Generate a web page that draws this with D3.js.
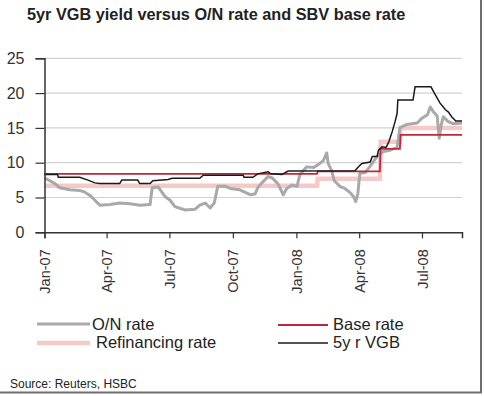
<!DOCTYPE html>
<html>
<head>
<meta charset="utf-8">
<script src="https://cdn.jsdelivr.net/npm/d3@7"></script>
<style>
  html, body { margin: 0; padding: 0; background: #fff; }
  svg { display: block; font-family: "Liberation Sans", Arial, sans-serif; }
</style>
</head>
<body>
<svg id="chart" width="484" height="396"></svg>
<script>
// ---------- data ----------
const titleText = "5yr VGB yield versus O/N rate and SBV base rate";
const sourceText = "Source: Reuters, HSBC";
const yTicks = [0, 5, 10, 15, 20, 25];
const xTickDates = ["2007-01-01", "2007-04-01", "2007-07-01", "2007-10-01", "2008-01-01", "2008-04-01", "2008-07-01"];
const xTickLabels = ["Jan-07", "Apr-07", "Jul-07", "Oct-07", "Jan-08", "Apr-08", "Jul-08"];
const xDomain = ["2007-01-01", "2008-08-28"];

const onRate = [
  ["2007-01-01", 7.8], ["2007-01-09", 7.4], ["2007-01-16", 7.0], ["2007-01-23", 6.4],
  ["2007-02-07", 6.1], ["2007-02-21", 6.0], ["2007-02-28", 5.8], ["2007-03-08", 5.3],
  ["2007-03-15", 4.6], ["2007-03-22", 3.9], ["2007-04-06", 4.0], ["2007-04-20", 4.2],
  ["2007-05-05", 4.1], ["2007-05-19", 3.9], ["2007-06-03", 4.0], ["2007-06-06", 6.4],
  ["2007-06-15", 6.5], ["2007-06-25", 5.1], ["2007-07-02", 4.6], ["2007-07-09", 3.7],
  ["2007-07-24", 3.2], ["2007-08-07", 3.3], ["2007-08-14", 3.9], ["2007-08-22", 4.2],
  ["2007-08-29", 3.5], ["2007-09-04", 4.2], ["2007-09-09", 6.6], ["2007-09-20", 6.6],
  ["2007-09-27", 6.3], ["2007-10-11", 6.1], ["2007-10-26", 5.4], ["2007-11-02", 5.5],
  ["2007-11-06", 6.4], ["2007-11-12", 7.1], ["2007-11-21", 8.0], ["2007-11-27", 7.8],
  ["2007-12-05", 7.0], ["2007-12-13", 5.4], ["2007-12-18", 6.3], ["2007-12-26", 6.8],
  ["2008-01-02", 6.6], ["2008-01-06", 8.3], ["2008-01-16", 9.4], ["2008-01-26", 9.3],
  ["2008-02-04", 9.9], ["2008-02-09", 10.3], ["2008-02-14", 11.4], ["2008-02-16", 9.9],
  ["2008-02-21", 8.9], ["2008-02-25", 7.4], ["2008-03-04", 6.6], ["2008-03-11", 6.3],
  ["2008-03-18", 5.8], ["2008-03-24", 5.1], ["2008-03-27", 4.4], ["2008-03-30", 5.5],
  ["2008-04-02", 8.5], ["2008-04-10", 8.6], ["2008-04-17", 9.5], ["2008-04-27", 10.9],
  ["2008-05-06", 11.6], ["2008-05-16", 11.8], ["2008-05-26", 12.2], ["2008-05-30", 15.0],
  ["2008-06-09", 15.5], ["2008-06-24", 15.7], ["2008-07-01", 16.4], ["2008-07-09", 16.9],
  ["2008-07-13", 18.0], ["2008-07-17", 17.4], ["2008-07-23", 16.7], ["2008-07-26", 13.5],
  ["2008-07-29", 15.5], ["2008-08-01", 16.6], ["2008-08-08", 15.9], ["2008-08-15", 15.6],
  ["2008-08-28", 15.7]
];

const refinancingRate = [
  ["2007-01-01", 6.7], ["2008-01-31", 6.7], ["2008-02-01", 7.7], ["2008-05-01", 7.7],
  ["2008-05-02", 13.0], ["2008-05-30", 13.0], ["2008-05-31", 15.0], ["2008-08-28", 15.0]
];

const baseRate = [
  ["2007-01-01", 8.4], ["2008-01-31", 8.4], ["2008-02-01", 8.75], ["2008-05-01", 8.75],
  ["2008-05-02", 12.0], ["2008-05-30", 12.0], ["2008-05-31", 14.0], ["2008-08-28", 14.0]
];

const vgb5yr = [
  ["2007-01-01", 8.3], ["2007-01-20", 8.3], ["2007-01-21", 7.9], ["2007-02-21", 7.9],
  ["2007-03-05", 7.5], ["2007-03-15", 7.1], ["2007-03-22", 7.0], ["2007-04-20", 7.0],
  ["2007-04-23", 7.5], ["2007-05-16", 7.5], ["2007-05-19", 7.0], ["2007-06-03", 7.0],
  ["2007-06-07", 7.4], ["2007-06-29", 7.6], ["2007-07-05", 7.75], ["2007-08-14", 7.75],
  ["2007-08-19", 8.2], ["2007-10-16", 8.2], ["2007-10-17", 7.9], ["2007-10-30", 7.9],
  ["2007-11-06", 8.4], ["2007-11-21", 8.7], ["2007-11-25", 8.4], ["2007-12-11", 8.3],
  ["2007-12-20", 8.8], ["2008-03-26", 8.85], ["2008-03-30", 9.3], ["2008-04-05", 9.9],
  ["2008-04-17", 10.1], ["2008-04-20", 10.9], ["2008-04-27", 10.9], ["2008-04-29", 11.8],
  ["2008-05-04", 12.3], ["2008-05-10", 12.2], ["2008-05-14", 13.0], ["2008-05-19", 14.5],
  ["2008-05-23", 15.9], ["2008-05-26", 17.1], ["2008-05-27", 19.0], ["2008-06-18", 19.0],
  ["2008-06-21", 20.9], ["2008-07-14", 20.9], ["2008-07-19", 20.0], ["2008-07-27", 18.6],
  ["2008-08-04", 17.6], ["2008-08-08", 17.3], ["2008-08-13", 16.6], ["2008-08-19", 16.0],
  ["2008-08-28", 16.0]
];

const seriesNames = ["O/N rate", "Refinancing rate", "Base rate", "5y r VGB"];
const seriesColors = ["#a9a9a9", "#f6c9c9", "#c0283a", "#1a1a1a"];

// ---------- chart ----------
const parse = d3.timeParse("%Y-%m-%d");
const svg = d3.select("#chart");

const x = d3.scaleTime().domain(xDomain.map(parse)).range([44.5, 462]);
const y = d3.scaleLinear().domain([0, 25]).range([232.3, 58.3]);

// frame
svg.append("line").attr("x1", 481).attr("x2", 481).attr("y1", 0).attr("y2", 393)
  .attr("stroke", "#6e6e6e").attr("stroke-width", 2);
svg.append("line").attr("x1", 0).attr("x2", 482).attr("y1", 392.5).attr("y2", 392.5)
  .attr("stroke", "#6e6e6e").attr("stroke-width", 2);

// title
svg.append("text").attr("x", 27).attr("y", 20)
  .attr("font-size", 16.3).attr("font-weight", "bold").attr("fill", "#222")
  .text(titleText);

// gridlines
svg.append("g").selectAll("line").data(yTicks.filter(d => d > 0)).join("line")
  .attr("x1", x.range()[0]).attr("x2", x.range()[1])
  .attr("y1", d => y(d)).attr("y2", d => y(d))
  .attr("stroke", "#d2d2d2").attr("stroke-width", 1.2);

// lines
const lineGen = d3.line().x(d => x(parse(d[0]))).y(d => y(d[1]));
const plot = svg.append("g");
plot.append("path").datum(refinancingRate).attr("d", lineGen)
  .attr("fill", "none").attr("stroke", seriesColors[1]).attr("stroke-width", 4.5);
plot.append("path").datum(onRate).attr("d", lineGen)
  .attr("fill", "none").attr("stroke", seriesColors[0]).attr("stroke-width", 3)
  .attr("stroke-linejoin", "round");
plot.append("path").datum(baseRate).attr("d", lineGen)
  .attr("fill", "none").attr("stroke", seriesColors[2]).attr("stroke-width", 1.8);
plot.append("path").datum(vgb5yr).attr("d", lineGen)
  .attr("fill", "none").attr("stroke", seriesColors[3]).attr("stroke-width", 1.5);

// y axis
const yAxis = svg.append("g").attr("transform", "translate(44.5,0)")
  .call(d3.axisLeft(y).tickValues(yTicks).tickSize(9).tickPadding(11).tickFormat(d3.format("d")));
yAxis.select(".domain").attr("stroke", "#333").attr("stroke-width", 1.5);
yAxis.selectAll(".tick line").attr("stroke", "#333").attr("stroke-width", 1.2);
yAxis.selectAll("text").attr("font-size", 16).attr("fill", "#333")
  .attr("font-family", "'Liberation Sans', Arial, sans-serif");

// x axis
const xAxis = svg.append("g").attr("transform", "translate(0,232.3)")
  .call(d3.axisBottom(x).tickValues(xTickDates.map(parse)).tickSize(6)
    .tickFormat((d, i) => xTickLabels[i]));
xAxis.select(".domain").attr("stroke", "#333").attr("stroke-width", 1.5);
xAxis.selectAll(".tick line").attr("stroke", "#333").attr("stroke-width", 1.2);
xAxis.selectAll("text")
  .attr("font-size", 14.5).attr("fill", "#333")
  .attr("font-family", "'Liberation Sans', Arial, sans-serif")
  .attr("text-anchor", "end")
  .attr("transform", "rotate(-90)")
  .attr("x", -17).attr("y", 0).attr("dy", "0.35em");

// legend
const legendItems = [
  { name: seriesNames[0], color: seriesColors[0], w: 3, x1: 37, x2: 90, ly: 324, tx: 92, ty: 330 },
  { name: seriesNames[1], color: seriesColors[1], w: 4.5, x1: 37, x2: 90, ly: 343, tx: 96, ty: 348 },
  { name: seriesNames[2], color: seriesColors[2], w: 1.8, x1: 278, x2: 328, ly: 325, tx: 333, ty: 330 },
  { name: seriesNames[3], color: seriesColors[3], w: 1.5, x1: 278, x2: 328, ly: 343, tx: 333, ty: 348 }
];
const lg = svg.append("g");
legendItems.forEach(it => {
  lg.append("line").attr("x1", it.x1).attr("x2", it.x2).attr("y1", it.ly).attr("y2", it.ly)
    .attr("stroke", it.color).attr("stroke-width", it.w);
  lg.append("text").attr("x", it.tx).attr("y", it.ty).attr("font-size", 16.5)
    .attr("fill", "#222").text(it.name);
});

// source
svg.append("text").attr("x", 10).attr("y", 388).attr("font-size", 12)
  .attr("fill", "#222").text(sourceText);
</script>
</body>
</html>
